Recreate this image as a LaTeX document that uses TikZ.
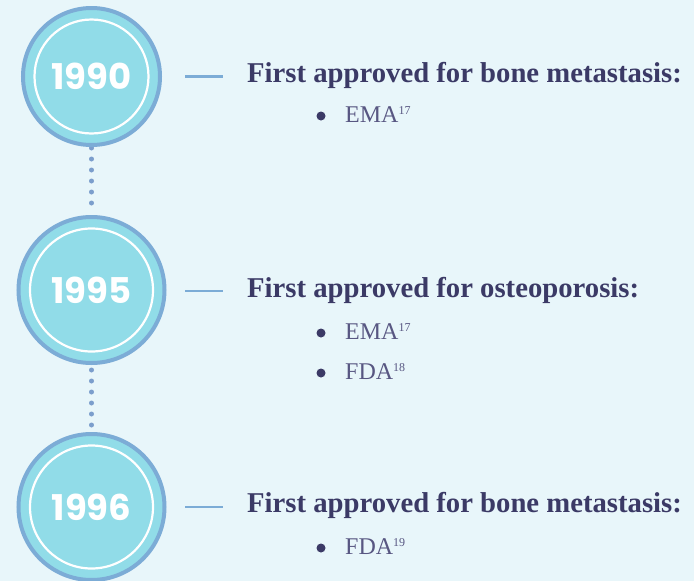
\documentclass[tikz,border=0pt]{standalone}
\usepackage{fontspec}
\setmainfont{Liberation Serif}
\newfontfamily\yearfont{Poppins}
\definecolor{bgc}{RGB}{232,246,250}
\definecolor{fillc}{RGB}{145,220,232}
\definecolor{ringc}{RGB}{124,172,214}
\definecolor{dotc}{RGB}{123,158,204}
\definecolor{navy}{RGB}{59,58,102}
\definecolor{itemc}{RGB}{88,87,130}
\tikzset{
  yearbox/.style={circle, draw=ringc, line width=4pt, fill=fillc, inner sep=0pt, text=white,
     font=\yearfont\bfseries\fontsize{35.5}{36}\selectfont},
  innerring/.style={draw=white, line width=2.2pt},
  dotline/.style={draw=dotc, line width=5pt, line cap=round, dash pattern=on 0pt off 11pt},
  dashline/.style={draw=ringc, line width=2.2pt},
  titletext/.style={anchor=base west, inner sep=0pt, text=navy, font=\bfseries\fontsize{28.7}{30}\selectfont},
  itemtext/.style={anchor=base west, inner sep=0pt, text=itemc, font=\fontsize{24}{26}\selectfont},
  bulletdot/.style={circle, fill=navy, inner sep=0pt, minimum size=9pt},
}
\newcommand{\refsup}[1]{{\fontsize{12}{12}\selectfont\raisebox{8pt}{#1}}}
\begin{document}
\begin{tikzpicture}[x=1pt,y=-1pt]
\fill[bgc] (0,0) rectangle (694,581);
\useasboundingbox (0,0) rectangle (694,581);
% dotted connectors behind
\coordinate (p1) at (91.5,76.5);
\coordinate (p2) at (91.5,290);
\coordinate (p3) at (91.5,507);
\draw[dotline] (91.5,148) -- (91.5,214);
\draw[dotline] (91.5,370) -- (91.5,431);
% circles
\node[yearbox, minimum size=137pt] (c1) at (p1) {1990};
\node[yearbox, minimum size=146pt] (c2) at (p2) {1995};
\node[yearbox, minimum size=146pt] (c3) at (p3) {1996};
\draw[innerring] (c1.center) circle (57pt);
\draw[innerring] (c2.center) circle (61.5pt);
\draw[innerring] (c3.center) circle (61.5pt);
% dashes
\coordinate (d1a) at (185,76.5); \coordinate (d1b) at (223,76.5);
\coordinate (d2a) at (185,291); \coordinate (d2b) at (223,291);
\coordinate (d3a) at (185,507); \coordinate (d3b) at (223,507);
\draw[dashline] (d1a) -- (d1b);
\draw[dashline] (d2a) -- (d2b);
\draw[dashline] (d3a) -- (d3b);
% texts
\node[titletext] (t1) at (247,82) {First approved for bone metastasis:};
\node[bulletdot] (b11) at (321,116) {};
\node[itemtext] (i11) at (345,122) {EMA\refsup{17}};
\node[titletext] (t2) at (247,297) {First approved for osteoporosis:};
\node[bulletdot] (b21) at (321,333) {};
\node[itemtext] (i21) at (345,339) {EMA\refsup{17}};
\node[bulletdot] (b22) at (321,373) {};
\node[itemtext] (i22) at (345,379) {FDA\refsup{18}};
\node[titletext] (t3) at (247,512) {First approved for bone metastasis:};
\node[bulletdot] (b31) at (321,548) {};
\node[itemtext] (i31) at (345,554) {FDA\refsup{19}};
\end{tikzpicture}
\end{document}
